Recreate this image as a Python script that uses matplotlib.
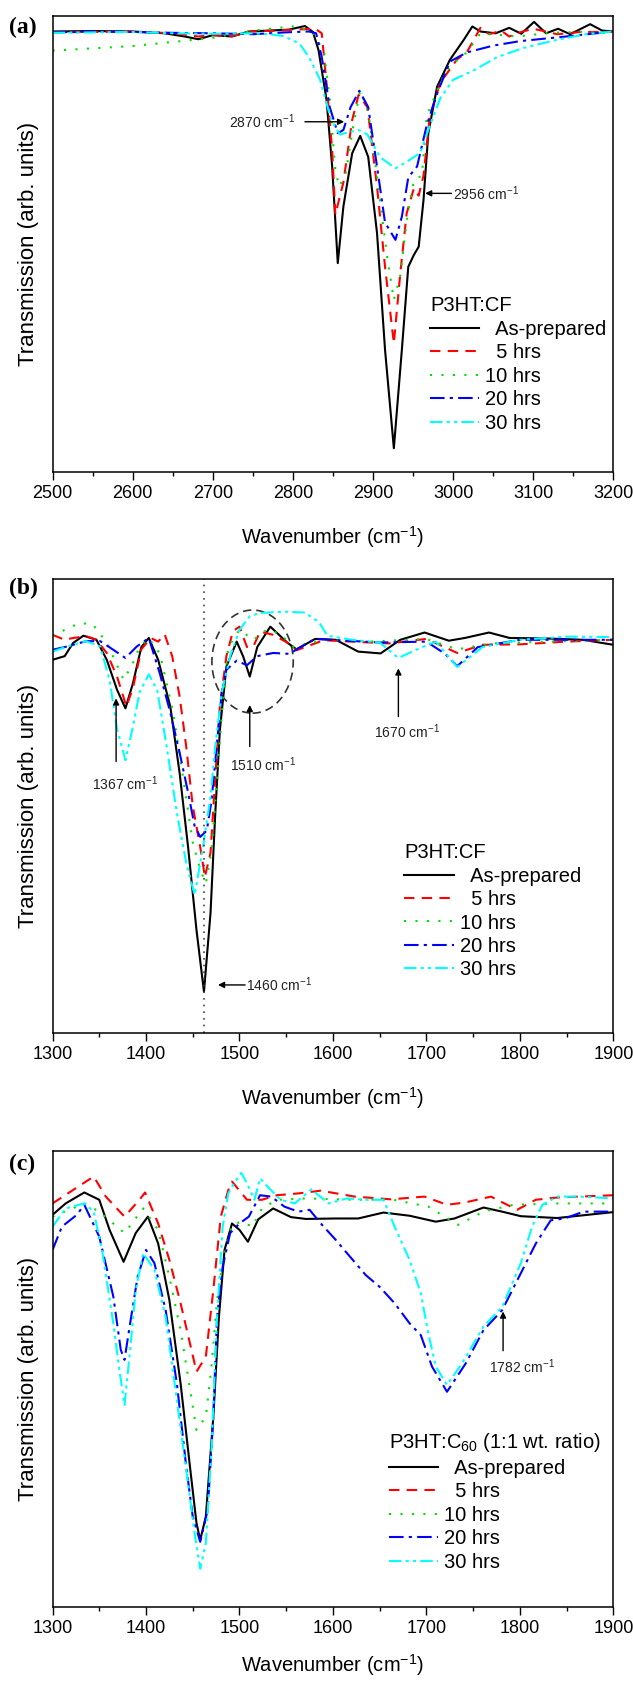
import matplotlib
matplotlib.use('Agg')
import matplotlib.pyplot as plt
from matplotlib.ticker import MultipleLocator
from matplotlib.patches import Ellipse

plt.rcParams['font.family'] = 'Liberation Sans'
plt.rcParams['mathtext.fontset'] = 'custom'
plt.rcParams['mathtext.rm'] = 'Liberation Sans'
plt.rcParams['mathtext.it'] = 'Liberation Sans:italic'

labels = ['  As-prepared', '  5 hrs', '10 hrs', '20 hrs', '30 hrs']
colors = ['black', '#ff0000', '#00e000', '#0000ff', '#00ffff']
styles = ['-', (0, (5, 3.5)), (0, (1, 4.5)), (0, (7, 2.5, 1.5, 2.5)),
          (0, (6, 2, 1.5, 2, 1.5, 2))]

# ---- panel (a): P3HT:CF, 2500-3200 cm-1 ----
a_black_x = [2500, 2550, 2600, 2640, 2665, 2682, 2700, 2724, 2745, 2770, 2795, 2815, 2825, 2832, 2842, 2849, 2856,
             2863, 2874, 2884, 2894, 2905, 2915, 2926, 2936, 2944, 2951, 2957, 2963, 2969, 2980, 2996, 3013, 3024,
             3034, 3053, 3070, 3085, 3101, 3116, 3131, 3146, 3171, 3186, 3200]
a_black_y = [0.966, 0.967, 0.966, 0.962, 0.955, 0.949, 0.958, 0.955, 0.966, 0.968, 0.970, 0.978, 0.965, 0.925, 0.816,
             0.670, 0.458, 0.582, 0.699, 0.737, 0.691, 0.524, 0.268, 0.052, 0.268, 0.450, 0.476, 0.494, 0.596, 0.743,
             0.845, 0.904, 0.947, 0.977, 0.966, 0.962, 0.974, 0.961, 0.987, 0.962, 0.972, 0.960, 0.982, 0.968, 0.966]
a_red_x = [2500, 2550, 2600, 2650, 2682, 2700, 2724, 2750, 2780, 2800, 2828, 2836, 2842, 2849, 2853, 2858, 2863, 2874,
           2882, 2893, 2905, 2915, 2926, 2934, 2942, 2951, 2957, 2963, 2971, 2984, 3005, 3017, 3034, 3045, 3060, 3070,
           3085, 3100, 3130, 3160, 3200]
a_red_y = [0.964, 0.965, 0.966, 0.962, 0.955, 0.958, 0.956, 0.966, 0.968, 0.970, 0.972, 0.962, 0.852, 0.706, 0.564,
           0.600, 0.635, 0.772, 0.827, 0.800, 0.626, 0.450, 0.282, 0.435, 0.567, 0.622, 0.606, 0.650, 0.781, 0.854,
           0.905, 0.920, 0.974, 0.960, 0.968, 0.955, 0.965, 0.972, 0.960, 0.965, 0.965]
a_green_x = [2500, 2550, 2600, 2650, 2700, 2730, 2760, 2800, 2825, 2839, 2846, 2853, 2858, 2866, 2876, 2884, 2894,
             2905, 2917, 2926, 2934, 2942, 2951, 2961, 2967, 2984, 2996, 3017, 3034, 3080, 3120, 3160, 3200]
a_green_y = [0.924, 0.929, 0.934, 0.943, 0.952, 0.962, 0.970, 0.977, 0.965, 0.920, 0.816, 0.660, 0.626, 0.656, 0.766,
             0.836, 0.790, 0.650, 0.480, 0.377, 0.430, 0.550, 0.640, 0.650, 0.780, 0.854, 0.890, 0.920, 0.962, 0.955,
             0.963, 0.965, 0.962]
a_blue_x = [2500, 2550, 2600, 2650, 2700, 2750, 2790, 2820, 2829, 2836, 2846, 2856, 2863, 2872, 2883, 2894, 2905,
            2915, 2928, 2936, 2944, 2955, 2967, 2980, 2996, 3017, 3050, 3084, 3141, 3200]
a_blue_y = [0.964, 0.966, 0.965, 0.963, 0.962, 0.960, 0.964, 0.966, 0.962, 0.910, 0.800, 0.743, 0.750, 0.800, 0.836,
            0.800, 0.670, 0.547, 0.509, 0.560, 0.646, 0.670, 0.760, 0.830, 0.900, 0.920, 0.935, 0.945, 0.955, 0.966]
a_cyan_x = [2500, 2550, 2600, 2650, 2700, 2750, 2770, 2788, 2808, 2820, 2834, 2848, 2859, 2869, 2882, 2893, 2909,
            2928, 2942, 2959, 2971, 2984, 3000, 3025, 3055, 3088, 3130, 3166, 3200]
a_cyan_y = [0.963, 0.964, 0.965, 0.962, 0.961, 0.962, 0.960, 0.956, 0.940, 0.910, 0.860, 0.770, 0.740, 0.745, 0.750,
            0.740, 0.690, 0.666, 0.680, 0.700, 0.760, 0.820, 0.860, 0.880, 0.910, 0.930, 0.948, 0.960, 0.966]

# ---- panel (b): P3HT:CF, 1300-1900 cm-1 ----
b_black_x = [1300, 1313, 1322, 1333, 1347, 1358, 1369, 1378, 1386, 1395, 1403, 1413, 1426, 1436, 1445, 1454, 1462,
             1469, 1474, 1479, 1486, 1497, 1504, 1511, 1519, 1533, 1551, 1561, 1581, 1603, 1627, 1651, 1672, 1698,
             1724, 1741, 1767, 1789, 1828, 1867, 1900]
b_black_y = [0.822, 0.830, 0.859, 0.875, 0.866, 0.822, 0.756, 0.715, 0.770, 0.850, 0.870, 0.822, 0.719, 0.572, 0.410,
             0.227, 0.091, 0.264, 0.480, 0.667, 0.807, 0.862, 0.829, 0.785, 0.850, 0.895, 0.860, 0.845, 0.868, 0.866,
             0.840, 0.836, 0.866, 0.882, 0.864, 0.870, 0.882, 0.870, 0.869, 0.866, 0.855]
b_red_x = [1300, 1313, 1322, 1336, 1347, 1358, 1369, 1379, 1386, 1395, 1405, 1413, 1420, 1428, 1436, 1443, 1450, 1458,
           1463, 1469, 1474, 1479, 1486, 1493, 1500, 1508, 1515, 1522, 1536, 1551, 1561, 1590, 1620, 1660, 1700, 1733,
           1760, 1800, 1850, 1900]
b_red_y = [0.877, 0.866, 0.870, 0.874, 0.866, 0.837, 0.785, 0.719, 0.760, 0.845, 0.870, 0.862, 0.878, 0.830, 0.741,
           0.631, 0.500, 0.410, 0.344, 0.397, 0.558, 0.720, 0.830, 0.885, 0.895, 0.850, 0.852, 0.884, 0.877, 0.860,
           0.843, 0.865, 0.862, 0.858, 0.868, 0.837, 0.855, 0.856, 0.862, 0.866]
b_green_x = [1300, 1315, 1329, 1343, 1358, 1369, 1376, 1385, 1393, 1403, 1415, 1429, 1440, 1450, 1458, 1464, 1470,
             1476, 1481, 1488, 1500, 1515, 1529, 1543, 1558, 1590, 1640, 1700, 1733, 1770, 1830, 1900]
b_green_y = [0.874, 0.890, 0.903, 0.900, 0.860, 0.810, 0.778, 0.810, 0.850, 0.870, 0.835, 0.706, 0.558, 0.420, 0.360,
             0.330, 0.400, 0.558, 0.700, 0.850, 0.888, 0.866, 0.888, 0.880, 0.850, 0.866, 0.862, 0.868, 0.845, 0.858,
             0.862, 0.866]
b_blue_x = [1300, 1315, 1336, 1351, 1365, 1378, 1390, 1403, 1415, 1426, 1436, 1445, 1452, 1458, 1465, 1470, 1476,
            1481, 1486, 1497, 1508, 1519, 1536, 1554, 1561, 1581, 1650, 1700, 1720, 1733, 1755, 1800, 1850, 1900]
b_blue_y = [0.844, 0.851, 0.863, 0.863, 0.844, 0.826, 0.851, 0.870, 0.790, 0.706, 0.617, 0.530, 0.456, 0.432, 0.446,
            0.510, 0.640, 0.750, 0.800, 0.820, 0.810, 0.830, 0.837, 0.835, 0.845, 0.868, 0.860, 0.862, 0.835, 0.808,
            0.850, 0.866, 0.866, 0.866]
b_cyan_x = [1300, 1315, 1336, 1351, 1361, 1369, 1378, 1386, 1393, 1403, 1412, 1422, 1433, 1443, 1452, 1461, 1469,
            1474, 1481, 1490, 1500, 1511, 1522, 1547, 1570, 1585, 1594, 1620, 1650, 1670, 1690, 1710, 1733, 1760,
            1800, 1850, 1900]
b_cyan_y = [0.840, 0.851, 0.863, 0.851, 0.778, 0.670, 0.601, 0.675, 0.750, 0.790, 0.755, 0.632, 0.485, 0.375, 0.304,
            0.410, 0.520, 0.630, 0.750, 0.830, 0.888, 0.918, 0.925, 0.928, 0.926, 0.905, 0.875, 0.866, 0.860, 0.826,
            0.845, 0.862, 0.806, 0.850, 0.866, 0.873, 0.872]

# ---- panel (c): P3HT:C60, 1300-1900 cm-1 ----
c_black_x = [1300, 1314, 1334, 1350, 1361, 1376, 1389, 1402, 1413, 1425, 1437, 1447, 1454, 1458, 1464, 1472, 1478,
             1484, 1492, 1500, 1509, 1520, 1536, 1555, 1571, 1603, 1627, 1654, 1682, 1710, 1730, 1761, 1781, 1801,
             1840, 1900]
c_black_y = [0.860, 0.885, 0.909, 0.893, 0.827, 0.757, 0.820, 0.856, 0.797, 0.673, 0.490, 0.308, 0.184, 0.147, 0.198,
             0.417, 0.636, 0.783, 0.841, 0.827, 0.801, 0.850, 0.874, 0.855, 0.851, 0.852, 0.852, 0.865, 0.858, 0.845,
             0.852, 0.876, 0.867, 0.857, 0.853, 0.866]
c_red_x = [1300, 1344, 1357, 1377, 1393, 1399, 1413, 1425, 1437, 1447, 1454, 1464, 1472, 1480, 1488, 1492, 1508, 1524,
           1540, 1563, 1587, 1623, 1662, 1698, 1722, 1741, 1769, 1797, 1817, 1840, 1900]
c_red_y = [0.885, 0.944, 0.900, 0.856, 0.893, 0.909, 0.841, 0.761, 0.666, 0.578, 0.516, 0.549, 0.695, 0.856, 0.914,
           0.933, 0.893, 0.893, 0.903, 0.907, 0.913, 0.900, 0.894, 0.900, 0.882, 0.887, 0.900, 0.871, 0.893, 0.898,
           0.903]
c_green_x = [1300, 1334, 1350, 1377, 1397, 1413, 1425, 1437, 1445, 1454, 1464, 1470, 1476, 1484, 1492, 1502, 1514,
             1524, 1540, 1571, 1623, 1662, 1702, 1734, 1761, 1793, 1840, 1900]
c_green_y = [0.856, 0.885, 0.867, 0.820, 0.874, 0.827, 0.724, 0.607, 0.505, 0.388, 0.417, 0.527, 0.673, 0.783, 0.838,
             0.845, 0.834, 0.874, 0.893, 0.896, 0.893, 0.894, 0.878, 0.838, 0.867, 0.882, 0.885, 0.885]
c_blue_x = [1300, 1310, 1326, 1334, 1350, 1365, 1373, 1377, 1383, 1391, 1400, 1409, 1421, 1433, 1443, 1450, 1458,
            1466, 1472, 1476, 1482, 1490, 1500, 1510, 1522, 1534, 1548, 1563, 1575, 1587, 1603, 1615, 1635, 1650,
            1666, 1682, 1694, 1706, 1722, 1742, 1761, 1781, 1801, 1817, 1833, 1848, 1868, 1900]
c_blue_y = [0.783, 0.834, 0.860, 0.882, 0.812, 0.681, 0.564, 0.542, 0.622, 0.724, 0.783, 0.754, 0.651, 0.490, 0.308,
            0.198, 0.143, 0.213, 0.417, 0.636, 0.746, 0.820, 0.841, 0.856, 0.903, 0.900, 0.878, 0.867, 0.871, 0.841,
            0.805, 0.776, 0.728, 0.702, 0.666, 0.622, 0.596, 0.527, 0.472, 0.534, 0.607, 0.651, 0.732, 0.797, 0.848,
            0.852, 0.867, 0.867]
c_cyan_x = [1300, 1314, 1334, 1344, 1353, 1365, 1371, 1377, 1383, 1389, 1397, 1409, 1421, 1433, 1445, 1452, 1458,
            1464, 1470, 1476, 1482, 1488, 1494, 1502, 1508, 1516, 1522, 1530, 1544, 1559, 1577, 1595, 1615, 1635,
            1654, 1666, 1682, 1694, 1702, 1710, 1722, 1738, 1761, 1781, 1801, 1813, 1824, 1840, 1864, 1900]
c_cyan_y = [0.834, 0.874, 0.885, 0.867, 0.783, 0.622, 0.527, 0.443, 0.564, 0.695, 0.776, 0.739, 0.636, 0.454, 0.271,
            0.161, 0.084, 0.140, 0.344, 0.636, 0.834, 0.907, 0.929, 0.952, 0.929, 0.893, 0.940, 0.922, 0.893, 0.885,
            0.916, 0.885, 0.896, 0.893, 0.893, 0.834, 0.761, 0.688, 0.600, 0.527, 0.487, 0.534, 0.615, 0.658, 0.754,
            0.834, 0.882, 0.900, 0.900, 0.896]

panels = [
    dict(tag='(a)', xlim=(2500, 3200), title='P3HT:CF', pad=16,
         series=[(a_black_x, a_black_y), (a_red_x, a_red_y), (a_green_x, a_green_y),
                 (a_blue_x, a_blue_y), (a_cyan_x, a_cyan_y)],
         rect=[0.0830, 0.7194, 0.8860, 0.2711], leg=(0.673, 0.385)),
    dict(tag='(b)', xlim=(1300, 1900), title='P3HT:CF', pad=16,
         series=[(b_black_x, b_black_y), (b_red_x, b_red_y), (b_green_x, b_green_y),
                 (b_blue_x, b_blue_y), (b_cyan_x, b_cyan_y)],
         rect=[0.0830, 0.3858, 0.8860, 0.2700], leg=(0.627, 0.418)),
    dict(tag='(c)', xlim=(1300, 1900), title='P3HT:C$_{60}$ (1:1 wt. ratio)', pad=11,
         series=[(c_black_x, c_black_y), (c_red_x, c_red_y), (c_green_x, c_green_y),
                 (c_blue_x, c_blue_y), (c_cyan_x, c_cyan_y)],
         rect=[0.0830, 0.0446, 0.8860, 0.2711], leg=(0.600, 0.385)),
]

fig = plt.figure(figsize=(6.33, 16.82), dpi=100)
axes = []
for p in panels:
    ax = fig.add_axes(p['rect'])
    for (x, y), lab, c, ls in zip(p['series'], labels, colors, styles):
        ax.plot(x, y, color=c, ls=ls, lw=1.5, label=lab)
    ax.set_xlim(*p['xlim'])
    ax.set_ylim(0, 1)
    ax.set_yticks([])
    ax.xaxis.set_major_locator(MultipleLocator(100))
    ax.xaxis.set_minor_locator(MultipleLocator(50))
    ax.tick_params(axis='x', which='major', direction='out', length=6, width=1, labelsize=13)
    ax.tick_params(axis='x', which='minor', direction='out', length=3, width=1)
    for s in ax.spines.values():
        s.set_linewidth(1.1)
    ax.set_xlabel('Wavenumber (cm$^{-1}$)', fontsize=14.5, labelpad=p['pad'])
    ax.set_ylabel('Transmission (arb. units)', fontsize=16, labelpad=10)
    leg = ax.legend(loc='upper left', bbox_to_anchor=p['leg'], frameon=False, title=p['title'],
                    alignment='left', fontsize=14.5, title_fontsize=14.5, handlelength=2.45,
                    handletextpad=0.3, labelspacing=0.22, borderpad=0, borderaxespad=0)
    axes.append(ax)

for p, ypix in zip(panels, [27, 588, 1164]):
    fig.text(0.014, 1 - ypix / 1682, p['tag'], fontfamily='Liberation Serif', fontweight='bold',
             fontsize=17, va='center', ha='left')

arrow = dict(arrowstyle='-|>', color='black', lw=1.0, mutation_scale=9, shrinkA=0, shrinkB=0)
ann = dict(fontsize=10, color='#222222')

ax = axes[0]
ax.annotate('', xy=(2864, 0.768), xytext=(2815, 0.768), arrowprops=arrow)
ax.text(2803, 0.768, '2870 cm$^{-1}$', ha='right', va='center', **ann)
ax.annotate('', xy=(2965, 0.611), xytext=(2998, 0.611), arrowprops=arrow)
ax.text(3000, 0.611, '2956 cm$^{-1}$', ha='left', va='center', **ann)

ax = axes[1]
ax.axvline(1462, color='#444444', ls=(0, (1, 3)), lw=1.2)
ax.add_patch(Ellipse((1514, 0.818), width=87, height=0.227, fill=False, ec='#333333',
                     ls=(0, (5, 3)), lw=1.2))
ax.annotate('', xy=(1368, 0.737), xytext=(1368, 0.598), arrowprops=arrow)
ax.text(1378, 0.55, '1367 cm$^{-1}$', ha='center', va='center', **ann)
ax.annotate('', xy=(1511, 0.7225), xytext=(1511, 0.631), arrowprops=arrow)
ax.text(1525, 0.59, '1510 cm$^{-1}$', ha='center', va='center', **ann)
ax.annotate('', xy=(1670, 0.803), xytext=(1670, 0.697), arrowprops=arrow)
ax.text(1679, 0.664, '1670 cm$^{-1}$', ha='center', va='center', **ann)
ax.annotate('', xy=(1477, 0.106), xytext=(1506, 0.106), arrowprops=arrow)
ax.text(1507, 0.106, '1460 cm$^{-1}$', ha='left', va='center', **ann)

ax = axes[2]
ax.annotate('', xy=(1782, 0.648), xytext=(1782, 0.562), arrowprops=arrow)
ax.text(1802, 0.527, '1782 cm$^{-1}$', ha='center', va='center', **ann)

fig.savefig('out.png', dpi=100)
